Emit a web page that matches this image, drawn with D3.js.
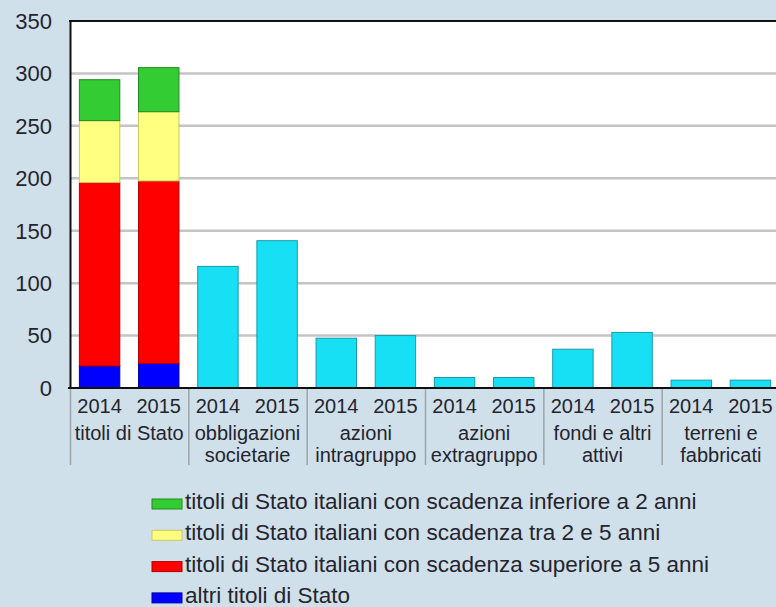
<!DOCTYPE html>
<html>
<head>
<meta charset="utf-8">
<script src="https://cdn.jsdelivr.net/npm/d3@7"></script>
<style>
  html, body { margin: 0; padding: 0; background: #d0e0ea; }
  svg { display: block; font-family: "Liberation Sans", Arial, sans-serif; }
</style>
</head>
<body>
<div id="chart"></div>
<script>
// categories (x groups) and years
const categories = ['titoli di Stato', 'obbligazioni societarie', 'azioni intragruppo',
  'azioni extragruppo', 'fondi e altri attivi', 'terreni e fabbricati'];
const categoryLines = [['titoli di Stato'], ['obbligazioni', 'societarie'], ['azioni', 'intragruppo'],
  ['azioni', 'extragruppo'], ['fondi e altri', 'attivi'], ['terreni e', 'fabbricati']];
const years = ['2014', '2015'];

// titoli di Stato, stacked (bottom to top)
const seriesKeys = ['altri', 'sup5', 'tra2e5', 'inf2'];
const altriTitoli = [21, 23.5];
const scadenzaSup5 = [175, 174];
const scadenzaTra2e5 = [59, 66];
const scadenzaInf2 = [39, 42];

// other categories, 2014 and 2015
const obbligazioni = [116, 140.5];
const azioniIntra = [47.5, 50];
const azioniExtra = [10, 10];
const fondi = [37, 53];
const terreni = [7.5, 7.5];

const yTicks = [0, 50, 100, 150, 200, 250, 300, 350];
const legendItems = [
  { key: 'inf2', label: 'titoli di Stato italiani con scadenza inferiore a 2 anni' },
  { key: 'tra2e5', label: 'titoli di Stato italiani con scadenza tra 2 e 5 anni' },
  { key: 'sup5', label: 'titoli di Stato italiani con scadenza superiore a 5 anni' },
  { key: 'altri', label: 'altri titoli di Stato' }
];

const fills = { altri: '#0000ff', sup5: '#ff0000', tra2e5: '#ffff80', inf2: '#33cc33' };
const strokes = { altri: '#0000a0', sup5: '#b00000', tra2e5: '#c8c860', inf2: '#228822' };

const width = 776;
const height = 607;
const plotLeft = 70, plotRight = 780, plotTop = 21, plotBottom = 388;

const svg = d3.select('#chart').append('svg')
  .attr('width', width)
  .attr('height', height);

const x = d3.scaleBand().domain(categories).range([plotLeft, plotRight]).padding(0);
const xi = d3.scaleBand().domain(years).range([0, x.bandwidth()])
  .paddingInner(0.3).paddingOuter(0.15);
const y = d3.scaleLinear().domain([0, 350]).range([plotBottom, plotTop]);

// plot background
svg.append('rect')
  .attr('x', plotLeft).attr('y', plotTop)
  .attr('width', plotRight - plotLeft).attr('height', plotBottom - plotTop)
  .attr('fill', '#fff');

// gridlines
svg.append('g')
  .selectAll('line')
  .data(yTicks.filter(d => d > 0 && d < 350))
  .join('line')
  .attr('x1', plotLeft).attr('x2', plotRight)
  .attr('y1', d => y(d)).attr('y2', d => y(d))
  .attr('stroke', '#c4c4c4')
  .attr('stroke-width', 2.5);

// stacked bars
const stackRows = years.map((yr, i) => ({
  year: yr,
  altri: altriTitoli[i], sup5: scadenzaSup5[i], tra2e5: scadenzaTra2e5[i], inf2: scadenzaInf2[i]
}));
const stacked = d3.stack().keys(seriesKeys)(stackRows);

svg.append('g')
  .selectAll('g')
  .data(stacked)
  .join('g')
  .attr('fill', d => fills[d.key])
  .attr('stroke', d => strokes[d.key])
  .attr('stroke-width', 1)
  .selectAll('rect')
  .data(d => d)
  .join('rect')
  .attr('x', d => x(categories[0]) + xi(d.data.year) + 0.5)
  .attr('y', d => y(d[1]))
  .attr('width', xi.bandwidth() - 1)
  .attr('height', d => y(d[0]) - y(d[1]));

// single bars
const singleRows = [
  { cat: categories[1], vals: obbligazioni },
  { cat: categories[2], vals: azioniIntra },
  { cat: categories[3], vals: azioniExtra },
  { cat: categories[4], vals: fondi },
  { cat: categories[5], vals: terreni }
].flatMap(r => years.map((yr, i) => ({ cat: r.cat, year: yr, value: r.vals[i] })));

svg.append('g')
  .selectAll('rect')
  .data(singleRows)
  .join('rect')
  .attr('x', d => x(d.cat) + xi(d.year) + 0.5)
  .attr('y', d => y(d.value))
  .attr('width', xi.bandwidth() - 1)
  .attr('height', d => y(0) - y(d.value))
  .attr('fill', '#18e0f4')
  .attr('stroke', '#1a9aaa')
  .attr('stroke-width', 1);

// frame: top border, left axis, bottom axis
svg.append('line')
  .attr('x1', plotLeft - 1).attr('x2', plotRight).attr('y1', plotTop).attr('y2', plotTop)
  .attr('stroke', '#111').attr('stroke-width', 2);
svg.append('line')
  .attr('x1', plotLeft + 0.5).attr('x2', plotLeft + 0.5).attr('y1', plotTop - 1).attr('y2', plotBottom)
  .attr('stroke', '#111').attr('stroke-width', 2);
svg.append('line')
  .attr('x1', plotLeft - 2).attr('x2', plotRight).attr('y1', plotBottom).attr('y2', plotBottom)
  .attr('stroke', '#111').attr('stroke-width', 2);

// group separators under the axis
svg.append('g')
  .selectAll('line')
  .data(categories)
  .join('line')
  .attr('x1', d => x(d) + 0.5).attr('x2', d => x(d) + 0.5)
  .attr('y1', plotBottom + 1).attr('y2', 465)
  .attr('stroke', '#9aa4aa')
  .attr('stroke-width', 1.5);

// y tick labels
svg.append('g')
  .selectAll('text')
  .data(yTicks)
  .join('text')
  .attr('x', 52)
  .attr('y', d => y(d))
  .attr('dy', '0.36em')
  .attr('text-anchor', 'end')
  .attr('font-size', 22)
  .attr('fill', '#24242e')
  .text(d => d);

// year labels
svg.append('g')
  .selectAll('text')
  .data(categories.flatMap(c => years.map(yr => ({ cat: c, year: yr }))))
  .join('text')
  .attr('x', d => x(d.cat) + xi(d.year) + xi.bandwidth() / 2)
  .attr('y', 413)
  .attr('text-anchor', 'middle')
  .attr('font-size', 20)
  .attr('fill', '#24242e')
  .text(d => d.year);

// category labels
const catLabel = svg.append('g')
  .selectAll('text')
  .data(categories)
  .join('text')
  .attr('x', d => x(d) + x.bandwidth() / 2)
  .attr('y', 440)
  .attr('text-anchor', 'middle')
  .attr('font-size', 20)
  .attr('fill', '#24242e');
catLabel.selectAll('tspan')
  .data((d, i) => categoryLines[i])
  .join('tspan')
  .attr('x', function () { return d3.select(this.parentNode).attr('x'); })
  .attr('dy', (d, i) => i === 0 ? 0 : 21.5)
  .text(d => d);

// legend
const legend = svg.append('g')
  .selectAll('g')
  .data(legendItems)
  .join('g')
  .attr('transform', (d, i) => `translate(152,${509 + i * 31.3})`);
legend.append('rect')
  .attr('x', 0).attr('y', -10)
  .attr('width', 30).attr('height', 10)
  .attr('fill', d => fills[d.key])
  .attr('stroke', d => strokes[d.key])
  .attr('stroke-width', 1);
legend.append('text')
  .attr('x', 33)
  .attr('y', 0)
  .attr('font-size', 22.5)
  .attr('fill', '#24242e')
  .text(d => d.label);
</script>
</body>
</html>
